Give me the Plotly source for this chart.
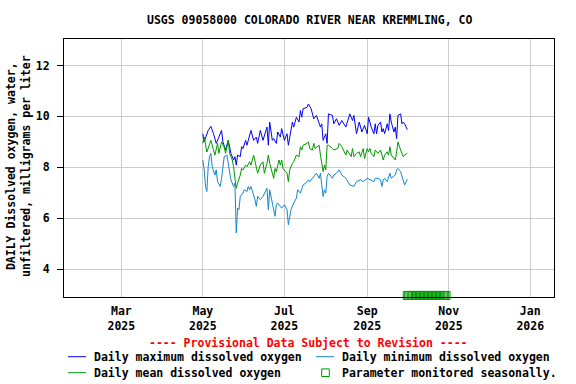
import plotly.graph_objects as go
import pandas as pd

# ---------------- data ----------------
# day offsets from 2025-05-01 and daily values (mg/L)
max_days = [0, 1, 4, 6, 8, 10, 12, 14, 15, 17, 19, 20, 21, 23, 24, 25, 26, 28, 29, 30,
            32, 33, 36, 38, 40, 41, 43, 45, 48, 49, 50, 52, 53, 55, 56, 58, 59, 61, 63, 64,
            65, 67, 68, 70, 72, 73, 74, 75, 78, 79, 81, 82, 83, 85, 88, 89, 90, 92, 93, 94,
            97, 98, 100, 102, 104, 107, 109, 110, 112, 113, 115, 117, 119, 121, 123, 124, 125, 126, 128, 129,
            130, 131, 133, 134, 135, 136, 138, 139, 140, 141, 143, 144, 145, 146, 148, 149, 150, 151, 153]
max_vals = [9.32, 9.00, 9.45, 9.61, 9.32, 8.94, 9.19, 9.45, 9.00, 8.68, 9.06, 8.81, 8.55, 8.29, 8.42, 8.09, 8.48, 8.42, 8.81, 8.74,
            9.06, 8.87, 9.45, 9.06, 9.19, 8.94, 9.45, 9.06, 9.58, 8.87, 9.78, 9.06, 9.13, 8.94, 9.39, 9.19, 9.52, 9.06, 9.32, 8.87,
            9.19, 9.78, 9.58, 9.97, 9.78, 10.23, 9.97, 10.30, 10.36, 10.49, 10.30, 10.10, 9.91, 10.04, 9.58, 9.71, 9.06, 9.32, 8.94, 10.10,
            10.04, 9.71, 9.91, 9.65, 9.84, 9.58, 9.97, 10.10, 9.84, 10.04, 9.32, 9.78, 9.39, 9.65, 9.32, 9.97, 9.78, 9.58, 9.32, 9.71,
            9.32, 9.65, 9.78, 9.39, 9.52, 9.32, 9.71, 9.45, 10.10, 9.78, 9.39, 9.58, 9.13, 10.04, 10.10, 9.71, 9.78, 9.71, 9.48]

min_days = [0, 1, 2, 3, 4, 5, 6, 7, 9, 10, 11, 13, 14, 15, 16, 18, 19, 20, 21, 23,
            24, 25, 26, 27, 28, 30, 31, 33, 34, 35, 36, 39, 40, 41, 43, 44, 45, 48, 49, 50,
            52, 53, 54, 55, 56, 58, 59, 61, 63, 64, 65, 66, 68, 70, 71, 73, 75, 77, 79, 80,
            82, 85, 87, 88, 90, 91, 92, 93, 94, 97, 98, 100, 102, 104, 107, 110, 113, 115, 118, 120,
            123, 125, 126, 128, 129, 130, 131, 133, 134, 135, 136, 138, 139, 140, 141, 143, 144, 145, 146, 148,
            149, 150, 151, 153]
min_vals = [8.29, 7.90, 7.25, 7.05, 8.03, 8.42, 8.55, 8.03, 7.70, 7.90, 7.44, 7.25, 7.57, 8.09, 8.42, 8.48, 8.09, 7.77, 7.51, 7.25,
            7.38, 5.43, 6.40, 6.34, 6.86, 6.99, 7.12, 7.05, 7.25, 7.12, 7.25, 6.73, 6.47, 6.86, 6.73, 6.79, 6.86, 7.18, 6.34, 7.12,
            6.60, 6.47, 6.08, 6.53, 6.60, 6.47, 6.40, 6.53, 6.34, 5.75, 6.14, 6.34, 6.60, 6.79, 7.12, 6.99, 7.31, 7.38, 7.51, 7.44,
            7.57, 7.77, 7.57, 7.77, 6.86, 7.12, 6.99, 7.64, 7.77, 7.57, 7.70, 7.77, 7.90, 7.70, 7.57, 7.31, 7.25, 7.44, 7.51, 7.44,
            7.57, 7.53, 7.51, 7.44, 7.57, 7.57, 7.57, 7.51, 7.25, 7.51, 7.57, 7.44, 7.64, 7.77, 7.57, 7.64, 7.70, 7.90, 7.96, 7.83,
            7.64, 7.44, 7.31, 7.53]

mean_days = [0, 1, 3, 6, 9, 11, 12, 14, 16, 17, 19, 20, 22, 23, 24, 25, 26, 28, 29, 30,
             32, 33, 35, 36, 38, 39, 40, 41, 43, 45, 46, 48, 49, 50, 52, 53, 54, 55, 57, 58,
             59, 60, 62, 63, 64, 65, 67, 68, 70, 72, 73, 74, 75, 78, 79, 80, 82, 83, 84, 87,
             88, 90, 91, 92, 93, 94, 97, 98, 101, 102, 104, 107, 108, 111, 112, 113, 115, 117, 118, 120,
             121, 123, 124, 125, 126, 128, 129, 130, 131, 133, 134, 135, 136, 138, 139, 140, 141, 143, 144, 145,
             146, 148, 149, 150, 151, 153]
mean_vals = [8.94, 9.19, 8.60, 9.06, 8.48, 8.94, 8.55, 9.00, 8.80, 8.55, 9.06, 8.55, 8.29, 8.03, 7.57, 7.18, 7.38, 7.70, 7.96, 7.90,
             8.09, 8.03, 8.22, 8.09, 8.48, 8.22, 7.90, 7.77, 8.09, 8.22, 7.77, 8.16, 8.48, 8.16, 7.77, 7.57, 7.96, 7.83, 8.29, 8.09,
             8.29, 7.96, 7.83, 7.77, 7.44, 7.90, 8.16, 8.22, 8.48, 8.42, 8.81, 8.68, 8.87, 8.94, 9.00, 8.74, 8.68, 8.94, 8.74, 8.87,
             8.48, 7.83, 8.09, 7.90, 8.87, 8.87, 8.74, 8.68, 8.74, 8.94, 8.81, 8.48, 8.68, 8.42, 8.74, 8.42, 8.55, 8.61, 8.42, 8.74,
             8.35, 8.74, 8.61, 8.74, 8.55, 8.42, 8.68, 8.61, 8.55, 8.68, 8.42, 8.29, 8.48, 8.61, 8.48, 8.81, 8.48, 8.35, 8.29, 8.61,
             9.00, 8.68, 8.55, 8.42, 8.48, 8.55]

# seasonal-monitoring markers: days (offset from 2025-05-01) and marker level
seasonal_days = list(range(153, 183))
seasonal_level = 2.97

tick_dates = ["2025-03-01", "2025-05-01", "2025-07-01", "2025-09-01", "2025-11-01", "2026-01-01"]
tick_text = ["Mar<br>2025", "May<br>2025", "Jul<br>2025", "Sep<br>2025", "Nov<br>2025", "Jan<br>2026"]
y_ticks = [4, 6, 8, 10, 12]

START = pd.Timestamp("2025-05-01")


def to_dates(days):
    return [START + pd.Timedelta(days=d) for d in days]


C_MAX = "#0000FF"
C_MIN = "#1188CC"
C_MEAN = "#009900"
FONT = "DejaVu Sans Mono"

fig = go.Figure()
fig.add_trace(go.Scatter(x=to_dates(max_days), y=max_vals, mode="lines",
                         line=dict(color=C_MAX, width=1), name="Daily maximum dissolved oxygen"))
fig.add_trace(go.Scatter(x=to_dates(min_days), y=min_vals, mode="lines",
                         line=dict(color=C_MIN, width=1), name="Daily minimum dissolved oxygen"))
fig.add_trace(go.Scatter(x=to_dates(mean_days), y=mean_vals, mode="lines",
                         line=dict(color=C_MEAN, width=1), name="Daily mean dissolved oxygen"))
fig.add_trace(go.Scatter(x=to_dates(seasonal_days), y=[seasonal_level] * len(seasonal_days),
                         mode="markers", cliponaxis=False,
                         marker=dict(symbol="square-open", size=8, color=C_MEAN, line=dict(width=1)),
                         name="Parameter monitored seasonally."))

# plot area in pixels
L, R, T, B = 64, 554, 39, 297
W, H = R - L, B - T


def px(x):
    return (x - L) / W


def py(y):
    return (B - y) / H


fig.update_layout(
    width=576, height=384,
    margin=dict(l=L, r=576 - R, t=T, b=384 - B),
    plot_bgcolor="white", paper_bgcolor="white",
    showlegend=False,
    font=dict(family=FONT, size=11.5, color="black", weight="bold"),
    xaxis=dict(range=["2025-01-17 02:00", "2026-01-18 19:00"],
               tickmode="array", tickvals=tick_dates, ticktext=tick_text,
               showgrid=True, gridcolor="#cccccc", gridwidth=1,
               ticks="", showline=True, mirror=True, linecolor="black", linewidth=1,
               zeroline=False, ticklabelstandoff=3),
    yaxis=dict(range=[2.91, 13.04], tickmode="array", tickvals=y_ticks,
               showgrid=True, gridcolor="#cccccc", gridwidth=1,
               ticks="outside", ticklen=6, tickcolor="black",
               showline=True, mirror=True, linecolor="black", linewidth=1,
               zeroline=False, ticklabelstandoff=5),
)

ann = []
ann.append(dict(text="USGS 09058000 COLORADO RIVER NEAR KREMMLING, CO",
                x=px(309.5), y=py(20), xref="paper", yref="paper",
                xanchor="center", yanchor="middle", showarrow=False))
ann.append(dict(text="DAILY Dissolved oxygen, water,<br>unfiltered, milligrams per liter",
                x=px(18.0), y=py(166), xref="paper", yref="paper", textangle=-90,
                xanchor="center", yanchor="middle", showarrow=False))
ann.append(dict(text="---- Provisional Data Subject to Revision ----",
                x=px(308.5), y=py(342.7), xref="paper", yref="paper",
                xanchor="center", yanchor="middle", showarrow=False,
                font=dict(color="#FF0000")))

# manual legend
legend_items = [
    ("Daily maximum dissolved oxygen", C_MAX, 68, 356.7, "line"),
    ("Daily minimum dissolved oxygen", C_MIN, 316, 356.7, "line"),
    ("Daily mean dissolved oxygen", C_MEAN, 68, 372.7, "line"),
    ("Parameter monitored seasonally.", C_MEAN, 316, 372.7, "square"),
]
shapes = []
for label, color, x0, yc, kind in legend_items:
    if kind == "line":
        shapes.append(dict(type="line", xref="paper", yref="paper",
                           x0=px(x0), x1=px(x0 + 18), y0=py(yc), y1=py(yc),
                           line=dict(color=color, width=1)))
    else:
        shapes.append(dict(type="rect", xref="paper", yref="paper",
                           x0=px(x0 + 5.7), x1=px(x0 + 13.3), y0=py(yc + 3.8), y1=py(yc - 3.8),
                           line=dict(color=color, width=1)))
    ann.append(dict(text=label, x=px(x0 + 23.5), y=py(yc), xref="paper", yref="paper",
                    xanchor="left", yanchor="middle", showarrow=False))

fig.update_layout(annotations=ann, shapes=shapes)

fig.write_html("out.html", config={"displayModeBar": False},
               post_script="document.body.style.margin='0';document.body.style.padding='0';")
